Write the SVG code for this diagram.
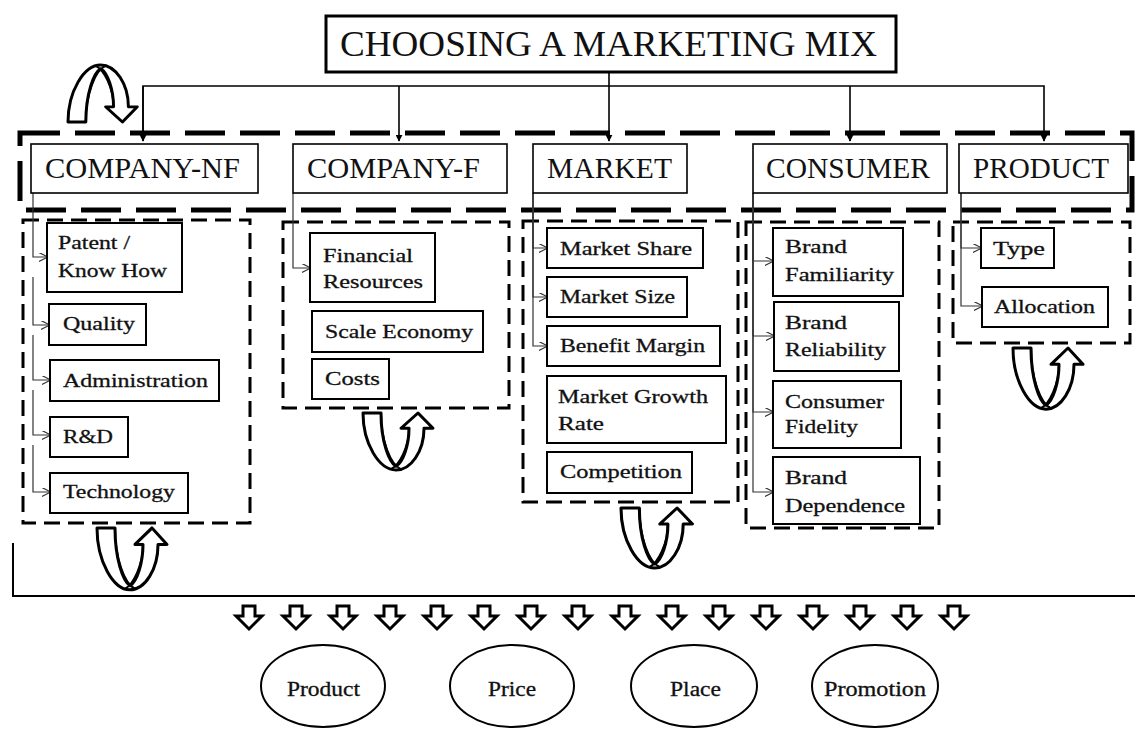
<svg xmlns="http://www.w3.org/2000/svg" width="1135" height="729" viewBox="0 0 1135 729">
<style>
.bg{fill:#fff}
.title{fill:#fff;stroke:#000;stroke-width:3}
.hbox{fill:#fff;stroke:#000;stroke-width:1.6}
.sbox{fill:#fff;stroke:#000;stroke-width:2}
.ht{font-family:"Liberation Serif",serif;font-size:29px;fill:#111}
.st{font-family:"Liberation Serif",serif;font-size:19px;fill:#111;stroke:#111;stroke-width:0.3}
.et{font-family:"Liberation Serif",serif;font-size:20px;fill:#111;stroke:#111;stroke-width:0.3}
.big{fill:none;stroke:#000;stroke-width:5;stroke-dasharray:40 15}
.grp{fill:none;stroke:#000;stroke-width:3;stroke-dasharray:16 8}
.main{fill:none;stroke:#000;stroke-width:1.6}
.elb{fill:none;stroke:#333;stroke-width:1.2}
.uarr{fill:#fff;stroke:#000;stroke-width:3;stroke-linejoin:round}
.darr{fill:#fff;stroke:#000;stroke-width:3;stroke-linejoin:miter}
.ell{fill:#fff;stroke:#000;stroke-width:2}
.base{fill:none;stroke:#000;stroke-width:2}
</style>
<defs>
<marker id="fa" viewBox="0 0 10 10" refX="9" refY="5" markerWidth="7" markerHeight="7" markerUnits="userSpaceOnUse" orient="auto"><path d="M0,0 L10,5 L0,10 Z" fill="#000"/></marker>
<marker id="oa" viewBox="0 0 10 10" refX="9" refY="5" markerWidth="9" markerHeight="9" markerUnits="userSpaceOnUse" orient="auto"><path d="M0,0 L10,5 L0,10" fill="none" stroke="#333" stroke-width="1.3"/></marker>
<g id="u">
<path class="uarr" d="M0,0 H18 C18,30 26,52 33,56 C40,52 46,34 46,16 H38 L55,0 L70,16 H61 C61,40 48,60 33,60 C16,60 0,32 0,0 Z"/>
<path fill="none" stroke="#000" stroke-width="2" d="M18,0 C18,30 28,55 38,59 M46,16 C46,36 36,55 28,59"/>
</g>
<path id="da" class="darr" d="M-6,0 H6 V10 H13 L0,23 L-13,10 H-6 Z"/>
</defs>
<rect class="bg" x="0" y="0" width="1135" height="729"/>

<!-- containers -->
<g id="containers">
<rect class="big" x="20" y="133" width="1112" height="77"/>
<path class="base" d="M13,543 V596 H1135"/>
<rect class="grp" x="23" y="220" width="227" height="303"/>
<rect class="grp" x="283" y="222" width="226" height="186"/>
<rect class="grp" x="523" y="221" width="215" height="281"/>
<rect class="grp" x="746" y="222" width="193" height="306"/>
<rect class="grp" x="953" y="222" width="177" height="121"/>
</g>

<!-- connectors -->
<g id="connectors">
<path class="main" d="M609,72 V141" marker-end="url(#fa)"/>
<path class="main" d="M143,141 V86 H1044 V141" marker-end="url(#fa)"/>
<path class="main" d="M143,86 V141" marker-end="url(#fa)"/>
<path class="main" d="M399,86 V141" marker-end="url(#fa)"/>
<path class="main" d="M850,86 V141" marker-end="url(#fa)"/>
<path class="elb" d="M33,193 V257 H47" marker-end="url(#oa)"/>
<path class="elb" d="M33,277 V325 H49" marker-end="url(#oa)"/>
<path class="elb" d="M33,335 V380 H50" marker-end="url(#oa)"/>
<path class="elb" d="M33,390 V435 H50" marker-end="url(#oa)"/>
<path class="elb" d="M33,445 V492 H50" marker-end="url(#oa)"/>
<path class="elb" d="M293,193 V268 H310" marker-end="url(#oa)"/>
<path class="elb" d="M533,193 V248 H547" marker-end="url(#oa)"/>
<path class="elb" d="M533,193 V297 H547" marker-end="url(#oa)"/>
<path class="elb" d="M533,193 V346 H547" marker-end="url(#oa)"/>
<path class="elb" d="M753,193 V261 H773" marker-end="url(#oa)"/>
<path class="elb" d="M753,193 V336 H774" marker-end="url(#oa)"/>
<path class="elb" d="M753,193 V412 H773" marker-end="url(#oa)"/>
<path class="elb" d="M753,193 V492 H773" marker-end="url(#oa)"/>
<path class="elb" d="M961,193 V248 H981" marker-end="url(#oa)"/>
<path class="elb" d="M961,193 V306 H982" marker-end="url(#oa)"/>
</g>

<!-- title -->
<g id="title">
<rect class="title" x="326" y="16" width="570" height="56"/>
<text x="340" y="56" font-family="Liberation Serif, serif" font-size="36" fill="#111" textLength="537" lengthAdjust="spacingAndGlyphs">CHOOSING A MARKETING MIX</text>
</g>

<!-- header nodes -->
<g id="h-company-nf"><rect class="hbox" x="31" y="144" width="227" height="49"/><text class="ht" x="45" y="178" textLength="195" lengthAdjust="spacingAndGlyphs">COMPANY-NF</text></g>
<g id="h-company-f"><rect class="hbox" x="293" y="144" width="214" height="49"/><text class="ht" x="307" y="178" textLength="173" lengthAdjust="spacingAndGlyphs">COMPANY-F</text></g>
<g id="h-market"><rect class="hbox" x="533" y="144" width="154" height="49"/><text class="ht" x="547" y="178" textLength="125" lengthAdjust="spacingAndGlyphs">MARKET</text></g>
<g id="h-consumer"><rect class="hbox" x="753" y="144" width="194" height="49"/><text class="ht" x="766" y="178" textLength="164" lengthAdjust="spacingAndGlyphs">CONSUMER</text></g>
<g id="h-product"><rect class="hbox" x="959" y="144" width="169" height="49"/><text class="ht" x="973" y="178" textLength="136" lengthAdjust="spacingAndGlyphs">PRODUCT</text></g>

<!-- COMPANY-NF items -->
<g id="n-patent"><rect class="sbox" x="47" y="223" width="135" height="69"/><text class="st" x="58" y="249" textLength="72" lengthAdjust="spacingAndGlyphs">Patent /</text><text class="st" x="58" y="277" textLength="109" lengthAdjust="spacingAndGlyphs">Know How</text></g>
<g id="n-quality"><rect class="sbox" x="49" y="304" width="97" height="41"/><text class="st" x="63" y="330" textLength="72" lengthAdjust="spacingAndGlyphs">Quality</text></g>
<g id="n-admin"><rect class="sbox" x="50" y="360" width="169" height="41"/><text class="st" x="63" y="387" textLength="145" lengthAdjust="spacingAndGlyphs">Administration</text></g>
<g id="n-rd"><rect class="sbox" x="50" y="417" width="78" height="40"/><text class="st" x="63" y="443" textLength="50" lengthAdjust="spacingAndGlyphs">R&amp;D</text></g>
<g id="n-tech"><rect class="sbox" x="50" y="473" width="138" height="40"/><text class="st" x="63" y="498" textLength="112" lengthAdjust="spacingAndGlyphs">Technology</text></g>

<!-- COMPANY-F items -->
<g id="n-fin"><rect class="sbox" x="310" y="233" width="125" height="69"/><text class="st" x="323" y="262" textLength="90" lengthAdjust="spacingAndGlyphs">Financial</text><text class="st" x="323" y="288" textLength="100" lengthAdjust="spacingAndGlyphs">Resources</text></g>
<g id="n-scale"><rect class="sbox" x="312" y="311" width="171" height="41"/><text class="st" x="325" y="338" textLength="148" lengthAdjust="spacingAndGlyphs">Scale Economy</text></g>
<g id="n-costs"><rect class="sbox" x="312" y="359" width="77" height="40"/><text class="st" x="325" y="385" textLength="55" lengthAdjust="spacingAndGlyphs">Costs</text></g>

<!-- MARKET items -->
<g id="n-mshare"><rect class="sbox" x="547" y="228" width="156" height="40"/><text class="st" x="560" y="255" textLength="132" lengthAdjust="spacingAndGlyphs">Market Share</text></g>
<g id="n-msize"><rect class="sbox" x="547" y="277" width="140" height="40"/><text class="st" x="560" y="303" textLength="115" lengthAdjust="spacingAndGlyphs">Market Size</text></g>
<g id="n-benefit"><rect class="sbox" x="547" y="326" width="173" height="40"/><text class="st" x="560" y="352" textLength="145" lengthAdjust="spacingAndGlyphs">Benefit Margin</text></g>
<g id="n-growth"><rect class="sbox" x="547" y="376" width="179" height="67"/><text class="st" x="558" y="403" textLength="150" lengthAdjust="spacingAndGlyphs">Market Growth</text><text class="st" x="558" y="430" textLength="46" lengthAdjust="spacingAndGlyphs">Rate</text></g>
<g id="n-comp"><rect class="sbox" x="547" y="452" width="145" height="41"/><text class="st" x="560" y="478" textLength="122" lengthAdjust="spacingAndGlyphs">Competition</text></g>

<!-- CONSUMER items -->
<g id="n-bfam"><rect class="sbox" x="773" y="228" width="130" height="68"/><text class="st" x="785" y="253" textLength="62" lengthAdjust="spacingAndGlyphs">Brand</text><text class="st" x="785" y="281" textLength="109" lengthAdjust="spacingAndGlyphs">Familiarity</text></g>
<g id="n-brel"><rect class="sbox" x="774" y="302" width="125" height="69"/><text class="st" x="785" y="329" textLength="62" lengthAdjust="spacingAndGlyphs">Brand</text><text class="st" x="785" y="356" textLength="101" lengthAdjust="spacingAndGlyphs">Reliability</text></g>
<g id="n-cfid"><rect class="sbox" x="773" y="381" width="128" height="67"/><text class="st" x="785" y="408" textLength="99" lengthAdjust="spacingAndGlyphs">Consumer</text><text class="st" x="785" y="433" textLength="73" lengthAdjust="spacingAndGlyphs">Fidelity</text></g>
<g id="n-bdep"><rect class="sbox" x="773" y="457" width="147" height="67"/><text class="st" x="785" y="484" textLength="62" lengthAdjust="spacingAndGlyphs">Brand</text><text class="st" x="785" y="512" textLength="120" lengthAdjust="spacingAndGlyphs">Dependence</text></g>

<!-- PRODUCT items -->
<g id="n-type"><rect class="sbox" x="981" y="228" width="73" height="40"/><text class="st" x="993" y="255" textLength="52" lengthAdjust="spacingAndGlyphs">Type</text></g>
<g id="n-alloc"><rect class="sbox" x="982" y="287" width="126" height="40"/><text class="st" x="994" y="313" textLength="101" lengthAdjust="spacingAndGlyphs">Allocation</text></g>

<!-- U-turn arrows -->
<g id="u-arrows">
<use href="#u" transform="translate(68,122) scale(0.99,-0.95)"/>
<use href="#u" transform="translate(97,528) scale(1,1.03)"/>
<use href="#u" transform="translate(363,413) scale(1,0.95)"/>
<use href="#u" transform="translate(621,508) scale(1.02,1)"/>
<use href="#u" transform="translate(1013,348) scale(1,1.02)"/>
</g>

<!-- down arrows -->
<g id="down-arrows">
<use href="#da" x="249" y="606"/><use href="#da" x="296" y="606"/><use href="#da" x="343" y="606"/><use href="#da" x="390" y="606"/>
<use href="#da" x="437" y="606"/><use href="#da" x="484" y="606"/><use href="#da" x="531" y="606"/><use href="#da" x="578" y="606"/>
<use href="#da" x="625" y="606"/><use href="#da" x="672" y="606"/><use href="#da" x="719" y="606"/><use href="#da" x="766" y="606"/>
<use href="#da" x="813" y="606"/><use href="#da" x="860" y="606"/><use href="#da" x="907" y="606"/><use href="#da" x="954" y="606"/>
</g>

<!-- 4P nodes -->
<g id="p-product"><ellipse class="ell" cx="323" cy="686" rx="62" ry="41"/><text class="et" x="287" y="696" textLength="73" lengthAdjust="spacingAndGlyphs">Product</text></g>
<g id="p-price"><ellipse class="ell" cx="512" cy="686" rx="62" ry="41"/><text class="et" x="488" y="696" textLength="48" lengthAdjust="spacingAndGlyphs">Price</text></g>
<g id="p-place"><ellipse class="ell" cx="694" cy="686" rx="63" ry="41"/><text class="et" x="670" y="696" textLength="51" lengthAdjust="spacingAndGlyphs">Place</text></g>
<g id="p-promotion"><ellipse class="ell" cx="875" cy="686" rx="63" ry="41"/><text class="et" x="824" y="696" textLength="102" lengthAdjust="spacingAndGlyphs">Promotion</text></g>
</svg>
